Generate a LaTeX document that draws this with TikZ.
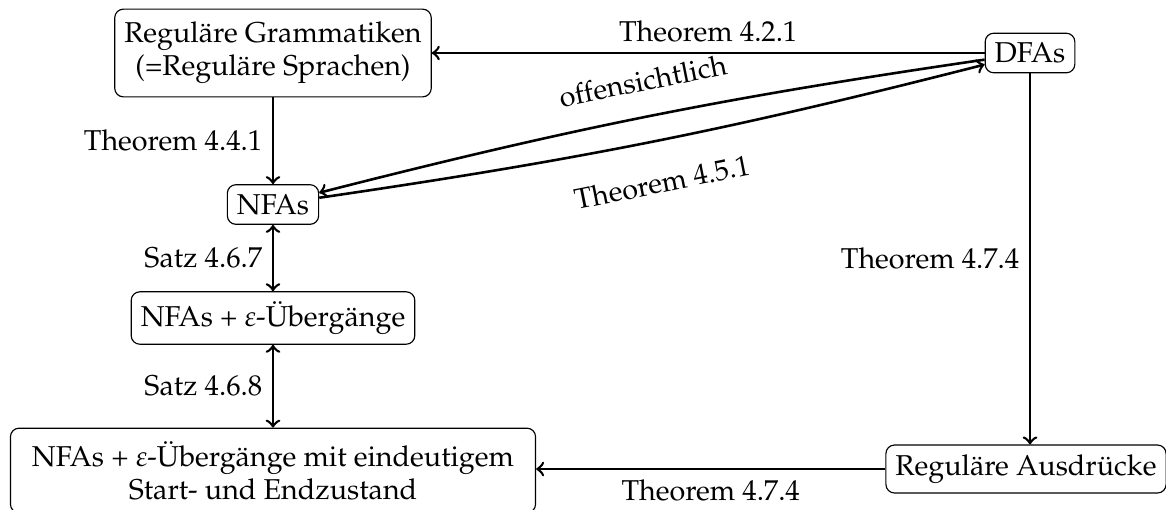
\documentclass[tikz,border=0pt]{standalone}
\usepackage[T1]{fontenc}
\usepackage{mathpazo}
\begin{document}
\begin{tikzpicture}[x=0.3484pt,y=0.3484pt,
  box/.style={draw, rounded corners=3pt, line width=0.4pt, inner sep=3.33pt},
  twoline/.style={box, align=center, font=\fontsize{10}{11.5}\selectfont, inner ysep=4.5pt},
  conn/.style={line width=0.9pt}]
\useasboundingbox (0,0) rectangle (1166,509);
\node[twoline] (RG) at (273,456) {Regul\"are Grammatiken\\(=Regul\"are Sprachen)};
\node[box] (DFA) at (1030,456) {DFAs};
\node[box] (NFA) at (273,304.5) {NFAs};
\node[box] (NFAe) at (273,191) {NFAs + $\varepsilon$-\"Uberg\"ange};
\node[twoline, inner xsep=7.5pt] (Bot) at (273,38.5) {NFAs + $\varepsilon$-\"Uberg\"ange mit eindeutigem\\Start- und Endzustand};
\node[box] (RA) at (1026,40) {Regul\"are Ausdr\"ucke};
\draw[conn,->] (DFA) -- node[above]{Theorem 4.2.1} (RG);
\draw[conn,->] (RG) -- node[left]{Theorem 4.4.1} (NFA);
\draw[conn,->] (DFA) to[bend right=3] node[sloped, above=5pt]{offensichtlich} (NFA);
\draw[conn,->] (NFA) to[bend right=3] node[sloped, below=7pt]{Theorem 4.5.1} (DFA);
\draw[conn,<->] (NFA) -- node[left]{Satz 4.6.7} (NFAe);
\draw[conn,<->] (NFAe) -- node[left]{Satz 4.6.8} (Bot);
\draw[conn,->] (DFA) -- node[left]{Theorem 4.7.4} (DFA |- RA.north);
\draw[conn,->] (RA) -- node[below]{Theorem 4.7.4} (RA -| Bot.east);
\end{tikzpicture}
\end{document}
